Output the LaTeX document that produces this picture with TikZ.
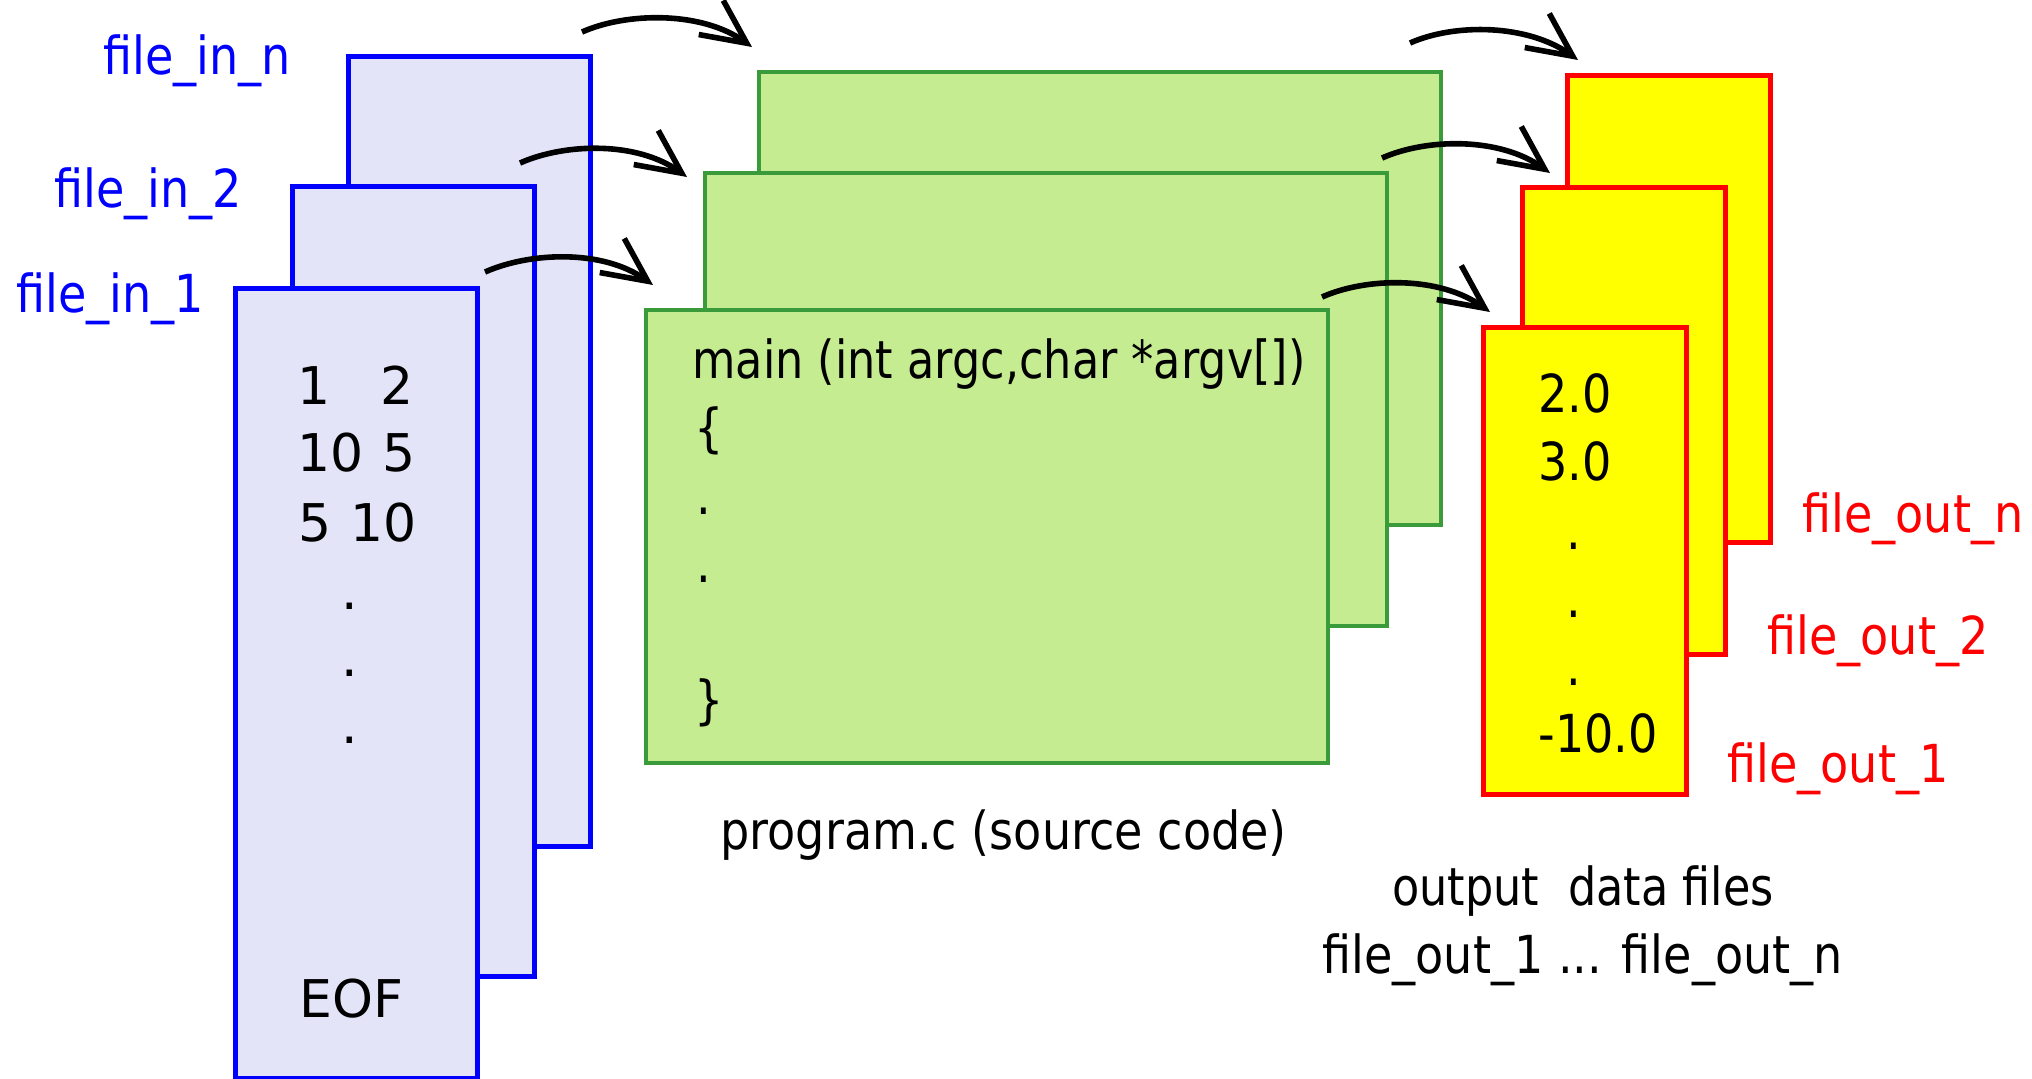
\documentclass[tikz,border=0pt]{standalone}
\usepackage{fontspec}
\setmainfont{DejaVu Sans}[FakeStretch=0.88]
\newfontfamily\digitfont{DejaVu Sans}
\newfontfamily\codefont{DejaVu Sans}[FakeStretch=0.85]
\usetikzlibrary{arrows.meta}
\definecolor{inblue}{RGB}{0,0,255}
\definecolor{infill}{RGB}{227,228,248}
\definecolor{srcfill}{RGB}{197,236,145}
\definecolor{srcline}{RGB}{58,155,58}
\definecolor{outfill}{RGB}{255,255,0}
\definecolor{outred}{RGB}{255,0,0}
\begin{document}
\begin{tikzpicture}[x=0.5pt,y=-0.5pt,
  infile/.style={draw=inblue, fill=infill, line width=2.4pt, anchor=north west,
                 minimum width=121pt, minimum height=395pt, inner sep=0pt},
  srcfile/.style={draw=srcline, fill=srcfill, line width=2.1pt, anchor=north west,
                  minimum width=341pt, minimum height=226.5pt, inner sep=0pt},
  outfile/.style={draw=outred, fill=outfill, line width=2.3pt, anchor=north west,
                  minimum width=101.5pt, minimum height=233.5pt, inner sep=0pt},
  txt/.style={inner sep=0pt, anchor=base west, font=\fontsize{26.2pt}{31pt}\selectfont},
  num/.style={inner sep=0pt, anchor=base west, font=\digitfont\fontsize{26pt}{31pt}\selectfont},
  flow/.style={line width=2.8pt, -{Straight Barb[length=22pt,width=21pt]}},
]
\useasboundingbox (0,0) rectangle (2032,1078);

% input data files
\node[infile] (inN) at (346,54) {};
\node[infile] (in2) at (290,184) {};
\node[infile] (in1) at (233,286) {};
\node[txt, text=inblue] (linN) at (103,74) {file\_in\_n};
\node[txt, text=inblue] (lin2) at (54,207) {file\_in\_2};
\node[txt, text=inblue] (lin1) at (16,312) {file\_in\_1};

\node[num] (d11) at (297,404) {1};
\node[num, anchor=base east] (d12) at (414,404) {2};
\node[num] (d21) at (297,471) {10};
\node[num, anchor=base east] (d22) at (416,471) {5};
\node[num] (d31) at (298,541) {5};
\node[num, anchor=base east] (d32) at (417,541) {10};
\node[num, anchor=base] (dd1) at (350,609) {.};
\node[num, anchor=base] (dd2) at (350,676) {.};
\node[num, anchor=base] (dd3) at (350,743) {.};
\node[num] (eof) at (299,1017) {EOF};

% source code
\node[srcfile] (srcN) at (757,70) {};
\node[srcfile] (src2) at (703,171) {};
\node[srcfile] (src1) at (644,308) {};
\node[txt, font=\codefont\fontsize{26.2pt}{31pt}\selectfont] (c1) at (692,378) {main (int argc,char *argv[])};
\node[txt] (c2) at (694,446) {\{};
\node[txt] (c3) at (696,514) {.};
\node[txt] (c4) at (696,582) {.};
\node[txt] (c5) at (694,718) {\}};
\node[txt] (prog) at (720,849) {program.c (source code)};

% output data files
\node[outfile] (outN) at (1565,73) {};
\node[outfile] (out2) at (1520,185) {};
\node[outfile] (out1) at (1481,325) {};
\node[txt] (v1) at (1538,412) {2.0};
\node[txt] (v2) at (1538,480) {3.0};
\node[txt, anchor=base] (vd1) at (1574,549) {.};
\node[txt, anchor=base] (vd2) at (1574,617) {.};
\node[txt, anchor=base] (vd3) at (1574,685) {.};
\node[txt] (v3) at (1538,752) {-10.0};
\node[txt, text=outred] (loutN) at (1802,532) {file\_out\_n};
\node[txt, text=outred] (lout2) at (1767,654) {file\_out\_2};
\node[txt, text=outred] (lout1) at (1727,782) {file\_out\_1};
\node[txt, font=\codefont\fontsize{26.2pt}{31pt}\selectfont] (olab1) at (1392,905) {output\hspace{0.55em}data files};
\node[txt] (olab2) at (1322,973) {file\_out\_1 ... file\_out\_n};

% flow arrows
\coordinate (ls1) at (582,32);   \coordinate (lt1) at (752,47);
\coordinate (ls2) at (520,163);  \coordinate (lt2) at (687,177);
\coordinate (ls3) at (485,272);  \coordinate (lt3) at (653,285);
\coordinate (rs1) at (1410,43);  \coordinate (rt1) at (1578,60);
\coordinate (rs2) at (1382,158); \coordinate (rt2) at (1550,173);
\coordinate (rs3) at (1322,297); \coordinate (rt3) at (1490,312);
\draw[flow] (ls1) .. controls +(45,-20) and +(-50,-36) .. (lt1);
\draw[flow] (ls2) .. controls +(45,-20) and +(-50,-36) .. (lt2);
\draw[flow] (ls3) .. controls +(45,-20) and +(-50,-36) .. (lt3);
\draw[flow] (rs1) .. controls +(45,-20) and +(-50,-36) .. (rt1);
\draw[flow] (rs2) .. controls +(45,-20) and +(-50,-36) .. (rt2);
\draw[flow] (rs3) .. controls +(45,-20) and +(-50,-36) .. (rt3);
\end{tikzpicture}
\end{document}
